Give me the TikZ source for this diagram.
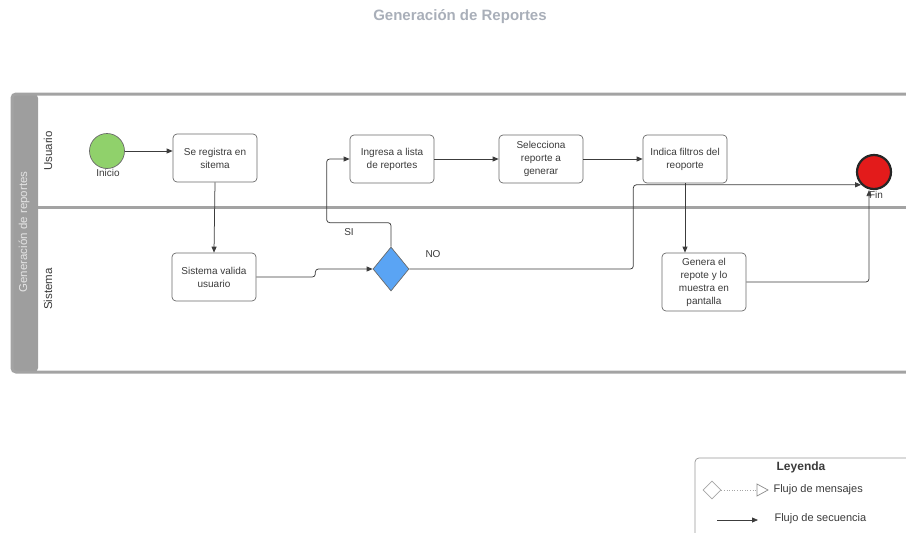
\documentclass[tikz,border=0pt]{standalone}
\usepackage{fontspec}
\setmainfont{Liberation Sans}
\usetikzlibrary{arrows.meta,shapes.geometric}
\definecolor{titlegray}{HTML}{A9AFB9}
\definecolor{poolgray}{HTML}{A3A3A3}
\definecolor{headgray}{HTML}{9E9E9E}
\definecolor{headtext}{HTML}{E4E4E4}
\definecolor{boxline}{HTML}{6A6A6A}
\definecolor{inktext}{HTML}{3A3A3A}
\definecolor{flowline}{HTML}{3C3C3C}
\definecolor{startgreen}{HTML}{90D16B}
\definecolor{endred}{HTML}{E31B1B}
\definecolor{gateblue}{HTML}{5AA4F4}
\begin{document}
\begin{tikzpicture}[x=1pt,y=-1pt,
  txt/.style={font=\fontsize{10}{13}\selectfont, text=inktext, align=center},
  task/.style={txt, draw=boxline, line width=0.7pt, rounded corners=4pt,
    minimum width=84pt, minimum height=48pt, inner sep=2pt},
  flow/.style={draw=flowline, line width=0.75pt, rounded corners=3pt,
    -{Triangle[length=6pt,width=5pt]}},
  lanelabel/.style={rotate=90, font=\fontsize{11.5}{13}\selectfont, text=inktext},
  legtext/.style={anchor=west, font=\fontsize{11}{13}\selectfont, text=inktext}]
\useasboundingbox (0,0) rectangle (906,533);
\clip (0,0) rectangle (906,533);

% title
\node[font=\bfseries\fontsize{15}{18}\selectfont, text=titlegray] (title) at (460,17) {Generación de Reportes};

% pool with header band and two lanes
\fill[headgray, rounded corners=4pt] (12,94) rectangle (38,372);
\draw[poolgray, line width=3pt, rounded corners=4pt] (12,94) rectangle (940,372);
\draw[poolgray, line width=3pt] (38,207) -- (940,207);
\node[rotate=90, font=\fontsize{11.5}{13}\selectfont, text=headtext] (pool) at (24,232) {Generación de reportes};
\node[lanelabel] (laneU) at (48,151) {Usuario};
\node[lanelabel] (laneS) at (48,289) {Sistema};

% events
\node[circle, draw=boxline, line width=0.7pt, fill=startgreen, minimum size=35pt, inner sep=0] (inicio) at (107,151) {};
\node[txt, anchor=north] (inicioL) at (108,166) {Inicio};
\node[circle, draw=black!85, line width=2.2pt, fill=endred, minimum size=34pt, inner sep=0] (fin) at (874,172) {};
\node[txt, anchor=north] (finL) at (876,188) {Fin};

% tasks
\node[task] (reg) at (215,158) {Se registra en\\sitema};
\node[task] (val) at (214,277) {Sistema valida\\usuario};
\node[task] (ing) at (392,159) {Ingresa a lista\\de reportes};
\node[task] (sel) at (541,159) {Selecciona\\reporte a\\generar};
\node[task] (ind) at (685,159) {Indica filtros del\\reoporte};
\node[task, minimum height=58pt] (gen) at (704,282) {Genera el\\repote y lo\\muestra en\\pantalla};

% gateway
\node[diamond, draw=boxline, line width=0.7pt, fill=gateblue, minimum width=36pt, minimum height=44pt, inner sep=0, aspect=0.8] (dec) at (391,269) {};

% sequence flows
\draw[flow] (inicio.east) -- (inicio.east -| reg.west);
\draw[flow] (reg.south) -- (val.north);
\draw[flow] (val.east) -- ++(59,0) |- (dec.west);
\draw[flow] (dec.north) -- ++(0,-24) -| ([xshift=-23pt]ing.west) -- (ing.west);
\draw[flow] (ing.east) -- (sel.west);
\draw[flow] (sel.east) -- (ind.west);
\draw[flow] (ind.south) -- (ind.south |- gen.north);
\draw[flow] (dec.east) -- ++(224,0) |- (fin.south west);
\draw[flow] (gen.east) -| ([xshift=-5pt]fin.south);

% flow labels
\node[txt] (siL) at (349,232) {SI};
\node[txt] (noL) at (433,254) {NO};

% legend
\draw[boxline!70, line width=0.7pt, rounded corners=4pt] (695,458) rectangle (940,560);
\node[font=\bfseries\fontsize{12}{14}\selectfont, text=inktext] (legT) at (801,467) {Leyenda};
\node[diamond, draw=black!35, line width=0.7pt, fill=white, minimum size=18pt, inner sep=0] (legD) at (712,490) {};
\coordinate (legA) at (757,490);
\draw[black!35, line width=0.6pt, dotted] (legD.east) -- (legA);
\draw[black!45, line width=0.7pt, fill=white] (legA) ++(0,-6) -- ++(11,6) -- ++(-11,6) -- cycle;
\node[legtext] (legM) at (770,490) {Flujo de mensajes};
\coordinate (legS1) at (717,520);
\coordinate (legS2) at (758,520);
\draw[flow] (legS1) -- (legS2);
\node[legtext] (legQ) at (771,519) {Flujo de secuencia};
\end{tikzpicture}
\end{document}
